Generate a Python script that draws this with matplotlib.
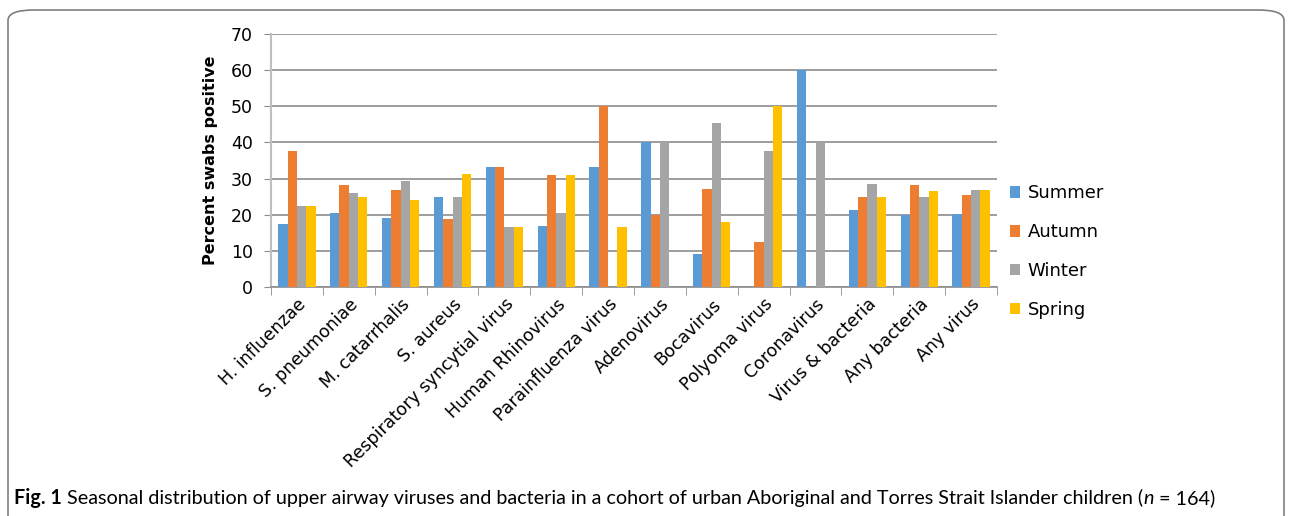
import numpy as np
import matplotlib
matplotlib.use('Agg')
import matplotlib.pyplot as plt
from matplotlib.patches import FancyBboxPatch

categories = ['H. influenzae', 'S. pneumoniae', 'M. catarrhalis', 'S. aureus',
              'Respiratory syncytial virus', 'Human Rhinovirus', 'Parainfluenza virus',
              'Adenovirus', 'Bocavirus', 'Polyoma virus', 'Coronavirus',
              'Virus & bacteria', 'Any bacteria', 'Any virus']
summer = [17.4, 20.4, 19.0, 24.9, 33.3, 17.0, 33.3, 40.0, 9.0, 0.0, 60.0, 21.3, 19.9, 20.1]
autumn = [37.5, 28.2, 26.8, 18.7, 33.3, 30.9, 50.0, 20.0, 27.1, 12.4, 0.0, 24.9, 28.2, 25.4]
winter = [22.4, 26.0, 29.4, 24.9, 16.6, 20.6, 0.0, 40.0, 45.5, 37.5, 40.0, 28.5, 24.9, 26.9]
spring = [22.4, 24.9, 24.2, 31.2, 16.6, 30.9, 16.6, 0.0, 18.1, 50.0, 0.0, 24.9, 26.5, 26.9]
seasons = ['Summer', 'Autumn', 'Winter', 'Spring']
colors = ['#5B9BD5', '#ED7D31', '#A5A5A5', '#FFC000']

fig = plt.figure(figsize=(12.92, 5.16), dpi=100)
ax = fig.add_axes([271 / 1292, 1 - 287 / 516, 726 / 1292, 253 / 516])

x = np.arange(len(categories))
w = 0.18
for i, (vals, lab, c) in enumerate(zip([summer, autumn, winter, spring], seasons, colors)):
    ax.bar(x + (i - 1.5) * w, vals, width=w, color=c, label=lab, zorder=3)

ax.set_xlim(-0.5, len(categories) - 0.5)
ax.set_ylim(0, 70)
ax.set_yticks(range(0, 71, 10))
ax.yaxis.grid(True, color='#8c8c8c', linewidth=1.2, zorder=0)
for s in ['top', 'right']:
    ax.spines[s].set_visible(False)
ax.spines['bottom'].set_color('#8c8c8c')
ax.spines['left'].set_color('#bfbfbf')
ax.spines['left'].set_linewidth(1.5)
ax.spines['bottom'].set_linewidth(1.2)
ax.tick_params(axis='y', length=5, color='#8c8c8c', labelsize=12.5, pad=8)
ax.set_xticks(x)
ax.set_xticklabels(categories, rotation=45, ha='right', rotation_mode='anchor', fontsize=12.5)
ax.tick_params(axis='x', length=0, pad=6)
ax.set_xticks(np.arange(-0.5, len(categories), 1), minor=True)
ax.tick_params(axis='x', which='minor', length=6, color='#8c8c8c')
ax.set_ylabel('Percent swabs positive', fontsize=11.5, fontweight='bold', labelpad=9)

ax.legend(loc='center left', bbox_to_anchor=(0.995, 0.14), frameon=False, fontsize=13,
          handlelength=0.6, handleheight=0.6, handletextpad=0.4, labelspacing=1.15)

fig.patches.append(FancyBboxPatch((8 / 1292, -0.05), 1276 / 1292, 1 - 10 / 516 + 0.05,
                                  boxstyle='round,pad=0,rounding_size=0.02',
                                  transform=fig.transFigure, fill=False,
                                  edgecolor='#7f7f7f', linewidth=1.2))

# caption in pieces: bold label, plain text, italic n
fig.canvas.draw()
r = fig.canvas.get_renderer()
fs = 14.2
yb = 1 - 504 / 516
t1 = fig.text(14 / 1292, yb, 'Fig. 1', fontsize=fs, fontweight='bold',
              va='baseline', family='Lato')
bb = t1.get_window_extent(r)
t2 = fig.text((bb.x1 + 5) / 1292, yb,
              'Seasonal distribution of upper airway viruses and bacteria in a cohort of urban Aboriginal and Torres Strait Islander children (',
              fontsize=fs, va='baseline', family='Lato')
bb = t2.get_window_extent(r)
t3 = fig.text(bb.x1 / 1292, yb, 'n', fontsize=fs, style='italic', va='baseline', family='Lato')
bb = t3.get_window_extent(r)
fig.text((bb.x1 + 1) / 1292, yb, ' = 164)', fontsize=fs, va='baseline', family='Lato')

fig.savefig('out.png', dpi=100)
